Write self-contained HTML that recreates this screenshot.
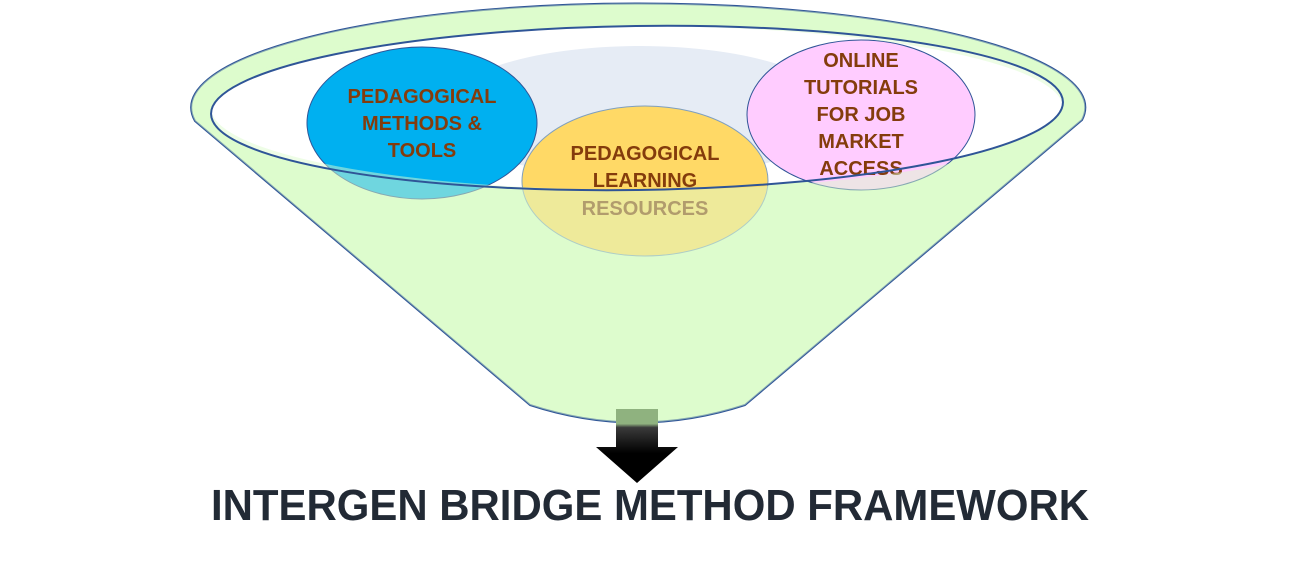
<!DOCTYPE html>
<html><head><meta charset="utf-8"><style>html,body{margin:0;padding:0;background:#fff}svg{display:block}</style></head>
<body>
<svg width="1299" height="564" viewBox="0 0 1299 564" xmlns="http://www.w3.org/2000/svg">
<defs>
<linearGradient id="ag" x1="0" y1="0" x2="0" y2="1">
<stop offset="0" stop-color="#8fb27f"/><stop offset="0.2" stop-color="#8fb27f"/><stop offset="0.25" stop-color="#3a3a3a"/><stop offset="0.6" stop-color="#000"/><stop offset="1" stop-color="#000"/>
</linearGradient>
</defs>
<!-- funnel body -->
<path d="M195 121 L530 405 Q637 440 745 405 L1082 120 A447 104 0 1 0 195 121 Z" fill="#ddfccd" stroke="#2f5597" stroke-width="2"/>
<ellipse cx="637" cy="108" rx="426" ry="82" transform="rotate(-0.8 637 108)" fill="#fff"/>
<ellipse cx="640" cy="112" rx="200" ry="66" fill="#e6ecf5"/>
<g font-family="Liberation Sans, sans-serif" font-weight="bold" font-size="20" fill="#843c0c" text-anchor="middle">
<ellipse cx="422" cy="123" rx="115" ry="76" fill="#00b0f0" stroke="#2f5597" stroke-width="1"/>
<text x="422" y="103">PEDAGOGICAL</text><text x="422" y="130">METHODS &amp;</text><text x="422" y="157">TOOLS</text>
<ellipse cx="645" cy="181" rx="123" ry="75" fill="#ffd966" stroke="#7f9fbf" stroke-width="1"/>
<text x="645" y="160">PEDAGOGICAL</text><text x="645" y="187">LEARNING</text><text x="645" y="215">RESOURCES</text>
<ellipse cx="861" cy="115" rx="114" ry="75" fill="#ffccff" stroke="#2f5597" stroke-width="1"/>
<text x="861" y="67">ONLINE</text><text x="861" y="94">TUTORIALS</text><text x="861" y="121">FOR JOB</text><text x="861" y="148">MARKET</text><text x="861" y="175">ACCESS</text>
</g>
<!-- overlay -->
<path fill-rule="evenodd" fill="#ddfccd" fill-opacity="0.5" d="M195 121 L530 405 Q637 440 745 405 L1082 120 A447 104 0 1 0 195 121 Z M211 108 A426 82 0 1 0 1063 108 A426 82 0 1 0 211 108 Z"/>
<ellipse cx="637" cy="108" rx="426" ry="82" transform="rotate(-0.8 637 108)" fill="none" stroke="#2f5597" stroke-width="2"/>
<!-- arrow -->
<path d="M616 409 H658 V447 H678 L637 483 L596 447 H616 Z" fill="url(#ag)"/>
<text x="650" y="520" font-family="Liberation Sans, sans-serif" font-weight="bold" font-size="44" fill="#222a35" text-anchor="middle" textLength="878" lengthAdjust="spacingAndGlyphs">INTERGEN BRIDGE METHOD FRAMEWORK</text>
</svg>
</body></html>
